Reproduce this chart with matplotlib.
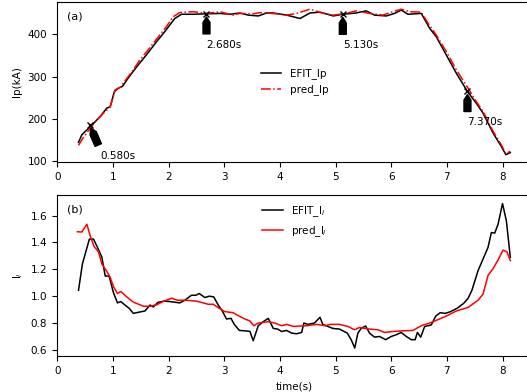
import numpy as np
import matplotlib
matplotlib.use('Agg')
from matplotlib import pyplot as plt

# Plasma current, EFIT reconstruction vs model prediction
t_ip_efit = [0.38, 0.44, 0.56, 0.68, 0.77, 0.89, 0.95, 1.025, 1.10, 1.17, 1.27, 1.36,
             1.48, 1.60, 1.78, 1.93, 2.11, 2.23, 2.44, 2.68, 2.92, 3.10, 3.28, 3.43,
             3.61, 3.76, 3.88, 4.12, 4.36, 4.54, 4.72, 4.96, 5.13, 5.37, 5.55, 5.70,
             5.91, 6.06, 6.18, 6.30, 6.54, 6.69, 6.81, 6.99, 7.17, 7.37, 7.53, 7.65,
             7.83, 7.98, 8.06, 8.14]
ip_efit = [145, 163, 178, 194, 206, 226, 229, 265, 273, 277, 296, 312,
           332, 351, 382, 406, 437, 447, 447, 448, 449, 447, 450, 445,
           443, 450, 450, 445, 437, 450, 452, 443, 447, 450, 455, 445,
           443, 449, 457, 447, 449, 414, 394, 351, 308, 265, 237, 214,
           167, 135, 116, 121]

t_ip_pred = [0.38, 0.46, 0.59, 0.71, 0.83, 0.95, 1.04, 1.13, 1.25, 1.37, 1.48, 1.63,
             1.78, 1.96, 2.08, 2.20, 2.44, 2.68, 2.92, 3.16, 3.28, 3.52, 3.64, 3.94,
             4.12, 4.30, 4.54, 4.78, 4.96, 5.19, 5.37, 5.61, 5.85, 6.03, 6.18, 6.33,
             6.54, 6.66, 6.81, 6.99, 7.17, 7.38, 7.53, 7.65, 7.83, 7.98, 8.06, 8.14]
ip_pred = [138, 155, 178, 198, 214, 229, 269, 275, 296, 317, 339, 363,
           388, 418, 441, 451, 453, 449, 453, 445, 449, 448, 451, 448,
           445, 449, 459, 449, 445, 449, 455, 449, 445, 453, 459, 453,
           452, 426, 398, 359, 316, 273, 241, 218, 171, 139, 118, 124]

# Internal inductance
t_li_efit = [0.38, 0.45, 0.575, 0.65, 0.72, 0.80, 0.86, 0.93, 1.005, 1.08, 1.14, 1.215,
             1.29, 1.365, 1.455, 1.575, 1.665, 1.725, 1.81, 1.93, 2.02, 2.20, 2.29, 2.41,
             2.49, 2.55, 2.65, 2.73, 2.81, 2.89, 2.97, 3.04, 3.12, 3.18, 3.27, 3.37,
             3.46, 3.52, 3.61, 3.70, 3.79, 3.88, 3.96, 4.03, 4.12, 4.21, 4.30, 4.39,
             4.43, 4.50, 4.62, 4.72, 4.77, 4.86, 4.95, 5.07, 5.21, 5.28, 5.345, 5.40,
             5.46, 5.54, 5.61, 5.70, 5.79, 5.90, 6.00, 6.09, 6.18, 6.27, 6.36, 6.43,
             6.47, 6.53, 6.60, 6.72, 6.80, 6.88, 6.97, 7.06, 7.18, 7.30, 7.38, 7.45,
             7.56, 7.65, 7.74, 7.80, 7.86, 7.92, 8.00, 8.07, 8.14]
li_efit = [1.044, 1.24, 1.425, 1.425, 1.364, 1.29, 1.15, 1.15, 1.03, 0.95, 0.96, 0.934,
           0.91, 0.872, 0.88, 0.89, 0.934, 0.92, 0.955, 0.963, 0.96, 0.95, 0.97, 1.007,
           1.007, 1.02, 0.99, 1.0, 0.995, 0.935, 0.885, 0.83, 0.835, 0.79, 0.745, 0.742,
           0.738, 0.668, 0.78, 0.81, 0.835, 0.76, 0.755, 0.737, 0.745, 0.725, 0.72, 0.73,
           0.80, 0.79, 0.80, 0.843, 0.79, 0.775, 0.76, 0.755, 0.725, 0.676, 0.614, 0.725,
           0.76, 0.778, 0.725, 0.695, 0.70, 0.676, 0.70, 0.713, 0.73, 0.70, 0.676, 0.676,
           0.73, 0.695, 0.774, 0.786, 0.852, 0.877, 0.872, 0.884, 0.909, 0.946, 0.983, 1.044,
           1.19, 1.277, 1.364, 1.474, 1.47, 1.536, 1.69, 1.56, 1.29]

t_li_pred = [0.36, 0.44, 0.53, 0.59, 0.66, 0.74, 0.80, 0.88, 0.95, 1.01, 1.08, 1.14,
             1.22, 1.29, 1.37, 1.46, 1.55, 1.67, 1.79, 1.91, 2.06, 2.15, 2.32, 2.50,
             2.62, 2.71, 2.80, 2.92, 3.01, 3.16, 3.25, 3.37, 3.46, 3.53, 3.61, 3.79,
             3.91, 4.03, 4.12, 4.24, 4.48, 4.66, 4.81, 4.90, 5.07, 5.22, 5.34, 5.43,
             5.61, 5.76, 5.88, 6.03, 6.21, 6.39, 6.54, 6.69, 6.81, 6.99, 7.17, 7.38,
             7.56, 7.65, 7.74, 7.83, 7.92, 8.01, 8.08, 8.14]
li_pred = [1.48, 1.478, 1.536, 1.45, 1.37, 1.33, 1.24, 1.19, 1.14, 1.07, 1.02, 1.035,
           1.005, 0.98, 0.955, 0.94, 0.925, 0.925, 0.937, 0.963, 0.985, 0.97, 0.97, 0.963,
           0.95, 0.94, 0.94, 0.907, 0.885, 0.877, 0.855, 0.83, 0.816, 0.78, 0.80, 0.81,
           0.80, 0.78, 0.79, 0.775, 0.78, 0.79, 0.78, 0.79, 0.79, 0.775, 0.75, 0.767,
           0.755, 0.75, 0.73, 0.737, 0.742, 0.745, 0.78, 0.80, 0.82, 0.852, 0.89, 0.916,
           0.97, 1.015, 1.155, 1.205, 1.27, 1.343, 1.33, 1.265]

# Marked time slices and where their labels sit (time offset)
mark_times = [0.58, 2.68, 5.13, 7.37]
mark_ip = [186, 448, 447, 265]
label_dt = [0.2, 0.0, 0.0, 0.0]

plt.rcParams['font.size'] = 7.5

fig = plt.figure(figsize=(5.27, 3.92), dpi=100)
ax1 = fig.add_axes([0.108, 0.587, 0.9015, 0.408])
ax2 = fig.add_axes([0.108, 0.092, 0.9015, 0.411])

ax1.plot(t_ip_efit, ip_efit, color='black', lw=1.1, label='EFIT_Ip')
ax1.plot(t_ip_pred, ip_pred, color='red', ls='-.', lw=1.1, label='pred_Ip')
ax1.plot(mark_times, mark_ip, 'kx', ms=5)
for t, ip, dt in zip(mark_times, mark_ip, label_dt):
    ax1.annotate('%.3fs' % t, xy=(t, ip), xytext=(t + dt, ip - 80),
                 arrowprops=dict(facecolor='black', width=5, headwidth=5,
                                 headlength=4, shrink=0.12))
ax1.set_ylabel('Ip(kA)')
ax1.set_xlim(-0.008, 8.53)
ax1.set_ylim(99, 476)
ax1.legend(loc='center', frameon=False)
ax1.text(0.022, 0.91, '(a)', transform=ax1.transAxes, va='center', fontsize=8)

ax2.plot(t_li_efit, li_efit, color='black', lw=1.1, label='EFIT_l$_i$')
ax2.plot(t_li_pred, li_pred, color='red', lw=1.1, label='pred_l$_i$')
ax2.set_ylabel('l$_i$')
ax2.set_xlabel('time(s)')
ax2.set_xlim(-0.008, 8.53)
ax2.set_ylim(0.555, 1.755)
ax2.legend(loc='upper center', frameon=False)
ax2.text(0.022, 0.91, '(b)', transform=ax2.transAxes, va='center', fontsize=8)

fig.savefig('out.png', dpi=100)
